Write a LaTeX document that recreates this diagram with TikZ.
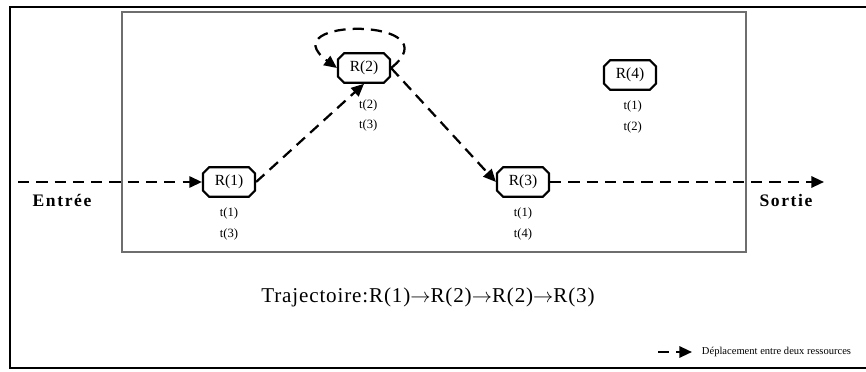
\documentclass[tikz,border=0pt]{standalone}
\usepackage{fontspec}
\setmainfont{Liberation Serif}
\usepackage{tikz}
\usetikzlibrary{arrows.meta,positioning,shapes.misc}
\definecolor{framegray}{RGB}{110,110,110}

\begin{document}
\begin{tikzpicture}[x=0.025cm, y=-0.025cm, node distance=1pt]
      \tikzstyle{res}=[chamfered rectangle,chamfered rectangle xsep=2.2pt,chamfered rectangle ysep=2.2pt,draw,line width=1.5pt,minimum width=37pt,minimum height=21pt,inner sep=0pt,font=\fontsize{11}{13}\selectfont,fill=white]
      \tikzstyle{tlab}=[font=\fontsize{9}{10}\selectfont,inner sep=1pt]
      \tikzstyle{ends}=[font=\fontsize{12.5}{14}\bfseries\selectfont\addfontfeature{LetterSpace=9}]
      \tikzstyle{move}=[line width=1.6pt,dash pattern=on 8pt off 5pt,-{Triangle[length=9pt,width=8pt]}]
      \useasboundingbox (0,0) rectangle (866,372);
      % cadres
      \draw[line width=1.6pt] (866,7) -- (10,7) -- (10,368) -- (866,368);
      \draw[framegray,line width=0.8pt] (122,12) rectangle (746,252);
      % ressources
      \node[res] (R1) at (229,182) {R(1)};
      \node[res] (R2) at (364,68) {R(2)};
      \node[res] (R3) at (523,182) {R(3)};
      \node[res] (R4) at (630,75) {R(4)};
      \node[tlab,below=6pt of R1] (R1a) {t(1)};
      \node[tlab,below=4pt of R1a] (R1b) {t(3)};
      \node[tlab,below=10pt of R2,xshift=3pt] (R2a) {t(2)};
      \node[tlab,below=4pt of R2a] (R2b) {t(3)};
      \node[tlab,below=6pt of R3] (R3a) {t(1)};
      \node[tlab,below=4pt of R3a] (R3b) {t(4)};
      \node[tlab,below=6pt of R4,xshift=2pt] (R4a) {t(1)};
      \node[tlab,below=4pt of R4a] (R4b) {t(2)};
      % entree / sortie
      \coordinate (in) at (18,182);
      \coordinate (out) at (824,182);
      \node[ends] (entree) at (62,200) {Entrée};
      \node[ends] (sortie) at (786,200) {Sortie};
      \draw[move] (in) -- (R1.west);
      \draw[move] (R1.east) -- (R2.south);
      \draw[move] (R2.east) .. controls (455,17) and (268,17) .. (R2.west);
      \draw[move] (R2.east) -- (R3.west);
      \draw[move] (R3.east) -- (out);
      % trajectoire
      \node[font=\fontsize{15}{17}\selectfont\addfontfeature{LetterSpace=4}] (traj) at (428,297) {Trajectoire:R(1)$\rightarrow$R(2)$\rightarrow$R(2)$\rightarrow$R(3)};
      % legende
      \coordinate (lega) at (658,352);
      \coordinate (legb) at (692,352);
      \draw[move] (lega) -- (legb);
      \node[font=\fontsize{7.5}{9}\selectfont,anchor=west] (legtxt) at (697,352) {Déplacement entre deux ressources};

    \end{tikzpicture}
\end{document}
